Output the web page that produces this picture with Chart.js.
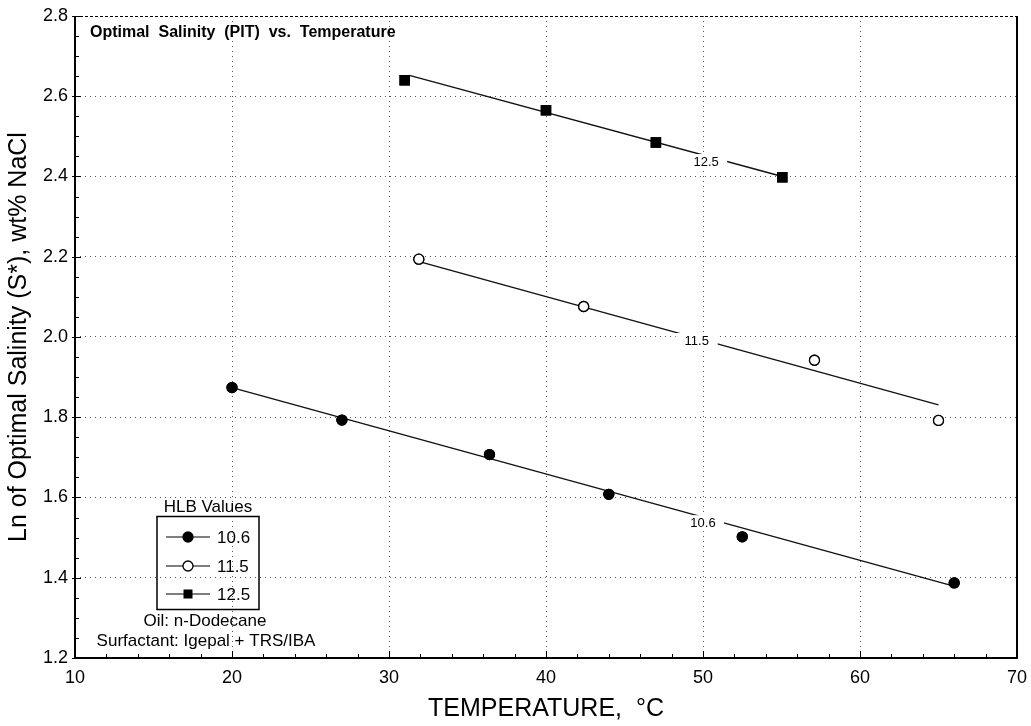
<!DOCTYPE html>
<html>
<head>
<meta charset="utf-8">
<script src="https://cdn.jsdelivr.net/npm/chart.js@4.4.0/dist/chart.umd.min.js"></script>
<style>
  html, body { margin: 0; padding: 0; background: #fff; }
  #wrap { width: 1031px; height: 726px; position: relative; }
</style>
</head>
<body>
<div id="wrap"><canvas id="grafico"></canvas></div>
<script>
// datos
const hlb = ['10.6', '11.5', '12.5'];

const temp106 = [20.0, 27.0, 36.4, 44.0, 52.5, 66.0];
const sal106  = [1.874, 1.793, 1.707, 1.608, 1.502, 1.387];

const temp115 = [31.9, 42.4, 57.1, 65.0];
const sal115  = [2.194, 2.076, 1.942, 1.792];

const temp125 = [31.0, 40.0, 47.0, 55.05];
const sal125  = [2.640, 2.565, 2.485, 2.398];

// rectas de ajuste (extremos) y posicion de su etiqueta
const ajusteX = [[20.0, 65.8], [32.1, 65.0], [31.3, 55.05]];
const ajusteY = [[1.874, 1.381], [2.186, 1.831], [2.652, 2.400]];
const etiquetaX = [50.0, 49.6, 50.2];
const etiquetaY = [1.536, 1.990, 2.436];

const xTicks = [10, 20, 30, 40, 50, 60, 70];
const yTicks = [1.2, 1.4, 1.6, 1.8, 2.0, 2.2, 2.4, 2.6, 2.8];

const FONT = "'Liberation Sans', Arial, Helvetica, sans-serif";
const toPts = (xs, ys) => xs.map((x, i) => ({ x: x, y: ys[i] }));

const marcadores = [
    { style: 'circle', radius: 5, fill: '#000' },
    { style: 'circle', radius: 5, fill: '#fff' },
    { style: 'rect', radius: 6.5, fill: '#000' }
];

const datasets = [];
ajusteX.forEach((xs, i) => {
    datasets.push({
        label: 'ajuste ' + hlb[i],
        data: toPts(xs, ajusteY[i]),
        showLine: true,
        borderColor: '#111',
        borderWidth: 1.4,
        pointRadius: 0,
        order: 2
    });
});
[[temp106, sal106], [temp115, sal115], [temp125, sal125]].forEach((s, i) => {
    datasets.push({
        label: hlb[i],
        data: toPts(s[0], s[1]),
        showLine: false,
        pointStyle: marcadores[i].style,
        pointRadius: marcadores[i].radius,
        pointBackgroundColor: marcadores[i].fill,
        pointBorderColor: '#000',
        pointBorderWidth: 1.3,
        order: 1
    });
});

const marcoYExtras = {
    id: 'marcoYExtras',
    afterDatasetsDraw(chart) {
        const ctx = chart.ctx;
        const a = chart.chartArea;
        const xs = chart.scales.x, ys = chart.scales.y;
        ctx.save();

        // cortes y etiquetas en las rectas
        ctx.font = '13px ' + FONT;
        ctx.textAlign = 'center';
        ctx.textBaseline = 'middle';
        etiquetaX.forEach((x, i) => {
            const px = xs.getPixelForValue(x), py = ys.getPixelForValue(etiquetaY[i]);
            ctx.fillStyle = '#fff';
            ctx.fillRect(px - 21, py - 8, 42, 16);
            ctx.fillStyle = '#000';
            ctx.fillText(hlb[i], px, py);
        });
        // redibujar los marcadores que tapa la caja blanca
        chart.getSortedVisibleDatasetMetas().forEach(m => {
            if (m.order === 1) m.controller.draw();
        });

        // marco
        ctx.strokeStyle = '#000';
        ctx.lineWidth = 2;
        ctx.beginPath();
        ctx.moveTo(a.left, a.top);
        ctx.lineTo(a.left, a.bottom);
        ctx.lineTo(a.right, a.bottom);
        ctx.lineTo(a.right, a.top);
        ctx.stroke();
        ctx.lineWidth = 1;
        ctx.setLineDash([3, 2]);
        ctx.beginPath();
        ctx.moveTo(a.left, a.top + 0.5);
        ctx.lineTo(a.right, a.top + 0.5);
        ctx.stroke();
        ctx.setLineDash([]);

        // marcas menores
        ctx.lineWidth = 1;
        ctx.beginPath();
        for (let v = 10; v <= 70; v += 2) {
            const px = Math.round(xs.getPixelForValue(v)) + 0.5;
            const len = (v % 10 === 0) ? 7 : 4;
            ctx.moveTo(px, a.bottom);
            ctx.lineTo(px, a.bottom - len);
        }
        for (let k = 0; k <= 32; k++) {
            const v = 1.2 + k * 0.05;
            const py = Math.round(ys.getPixelForValue(v)) + 0.5;
            const major = k % 4 === 0;
            ctx.moveTo(a.left - (major ? 3 : 0), py);
            ctx.lineTo(a.left + (major ? 6 : 4), py);
        }
        ctx.stroke();

        // titulo interno
        ctx.fillStyle = '#000';
        ctx.font = 'bold 16px ' + FONT;
        ctx.textAlign = 'left';
        ctx.textBaseline = 'middle';
        ctx.fillText('Optimal  Salinity  (PIT)  vs.  Temperature', 90, 33);

        // leyenda
        ctx.font = '17px ' + FONT;
        ctx.textAlign = 'center';
        ctx.fillText('HLB Values', 208, 507);
        ctx.lineWidth = 1.5;
        ctx.strokeRect(157, 516.5, 102, 93);
        const filas = [537, 566, 594];
        filas.forEach((fy, i) => {
            ctx.lineWidth = 1.2;
            ctx.beginPath();
            ctx.moveTo(166, fy);
            ctx.lineTo(210, fy);
            ctx.stroke();
            const mk = marcadores[i];
            ctx.fillStyle = mk.fill;
            ctx.strokeStyle = '#000';
            ctx.lineWidth = 1.3;
            if (mk.style === 'rect') {
                ctx.fillRect(183.5, fy - 4.5, 9, 9);
            } else {
                ctx.beginPath();
                ctx.arc(188, fy, 5, 0, Math.PI * 2);
                ctx.fill();
                ctx.stroke();
            }
            ctx.fillStyle = '#000';
            ctx.textAlign = 'left';
            ctx.font = '17px ' + FONT;
            ctx.fillText(hlb[i], 217, fy + 1);
        });
        ctx.textAlign = 'center';
        ctx.fillText('Oil: n-Dodecane', 205, 621);
        ctx.fillText('Surfactant: Igepal + TRS/IBA', 206, 641);
        ctx.restore();
    }
};

const grafico = document.getElementById('grafico').getContext('2d');

window.graficaSalinidad = new Chart(grafico, {
    type: 'scatter',
    data: { datasets: datasets },
    options: {
        responsive: true,
        maintainAspectRatio: false,
        animation: false,
        layout: { padding: { top: 16, right: 14, left: 0, bottom: 0 } },
        plugins: { legend: { display: false }, tooltip: { enabled: false } },
        scales: {
            x: {
                type: 'linear',
                min: 10, max: 70,
                afterBuildTicks: s => { s.ticks = xTicks.map(v => ({ value: v })); },
                afterFit: s => { s.height = 68; s.paddingLeft = 0; s.paddingRight = 0; },
                border: { display: false, dash: [1, 4] },
                grid: {
                    drawTicks: false,
                    color: '#555',
                    lineWidth: 1
                },
                ticks: {
                    padding: 9,
                    color: '#000',
                    font: { family: FONT, size: 18 },
                    maxRotation: 0
                },
                title: {
                    display: true,
                    text: 'TEMPERATURE,  \u00B0C',
                    color: '#000',
                    font: { family: FONT, size: 25 },
                    padding: { top: 0, bottom: 2 }
                }
            },
            y: {
                type: 'linear',
                min: 1.2, max: 2.8,
                afterBuildTicks: s => { s.ticks = yTicks.map(v => ({ value: v })); },
                afterFit: s => { s.width = 75; s.paddingTop = 0; s.paddingBottom = 0; },
                border: { display: false, dash: [1, 4] },
                grid: {
                    drawTicks: false,
                    color: '#555',
                    lineWidth: 1
                },
                ticks: {
                    padding: 7,
                    color: '#000',
                    font: { family: FONT, size: 18 },
                    callback: v => v.toFixed(1)
                },
                title: {
                    display: true,
                    text: 'Ln of Optimal Salinity (S*), wt% NaCl',
                    color: '#000',
                    font: { family: FONT, size: 25 },
                    padding: { top: 4, bottom: 0 }
                }
            }
        }
    },
    plugins: [marcoYExtras]
});
</script>
</body>
</html>
